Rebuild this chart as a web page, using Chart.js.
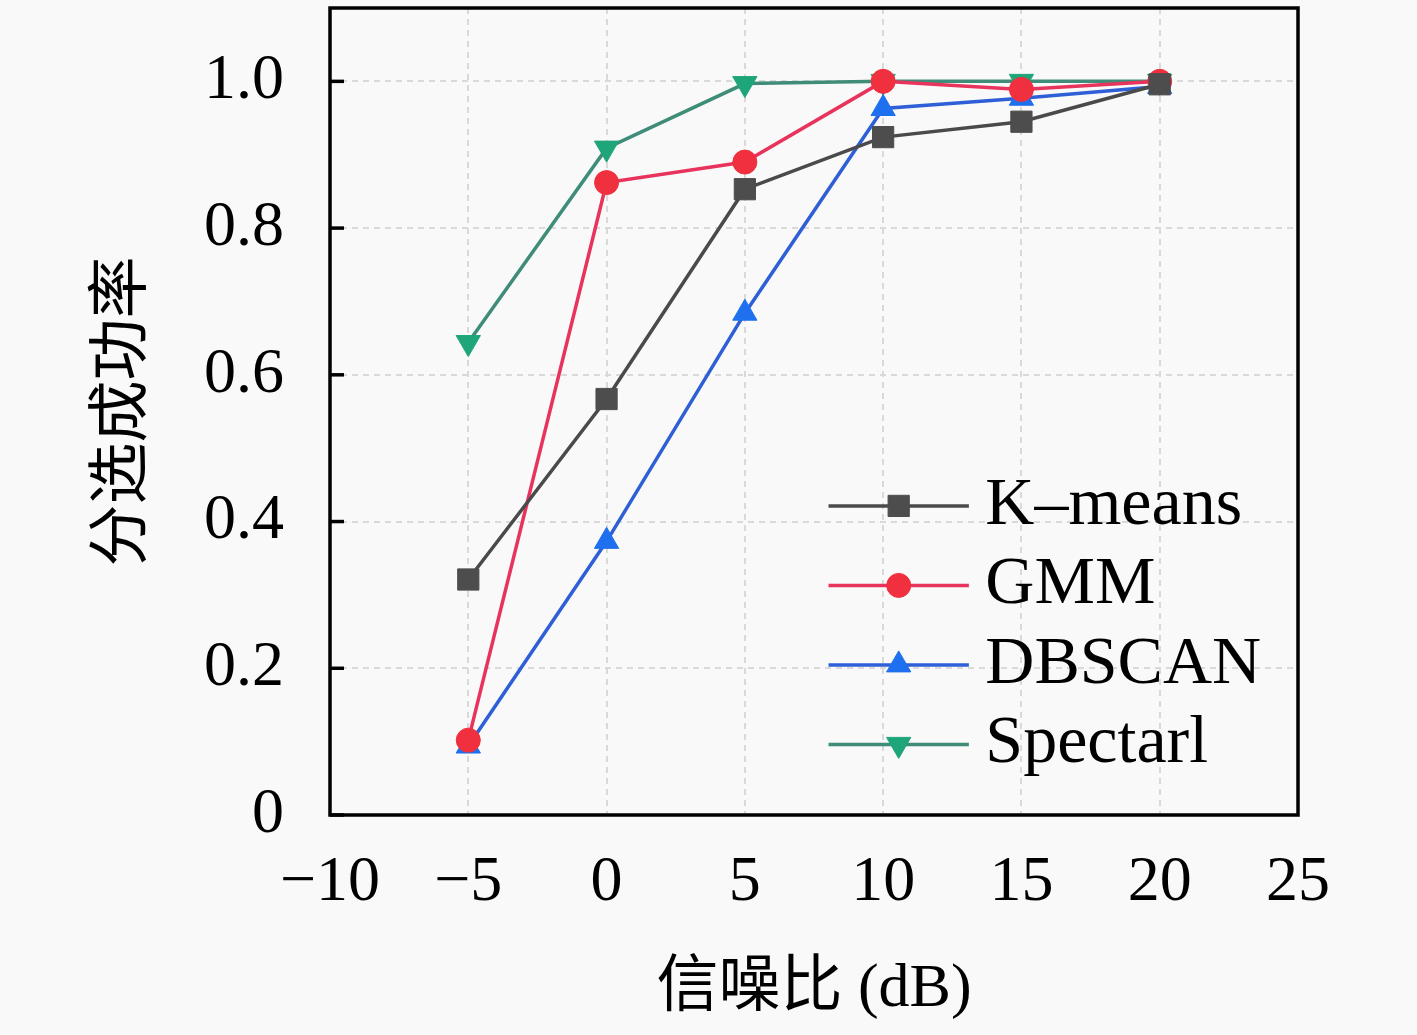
<!DOCTYPE html>
<html><head><meta charset="utf-8">
<script src="https://cdn.jsdelivr.net/npm/chart.js@4/dist/chart.umd.min.js"></script>
<style>html,body{margin:0;padding:0;background:#f9f9f9;}#wrap{width:1417px;height:1035px;}</style>
</head><body><div id="wrap"><canvas id="c" width="1417" height="1035"></canvas></div>
<script>
const snr = [-5, 0, 5, 10, 15, 20];
const kmeans = [0.321, 0.567, 0.853, 0.924, 0.945, 0.996];
const gmm = [0.102, 0.862, 0.890, 1.000, 0.989, 1.000];
const dbscan = [0.094, 0.373, 0.684, 0.963, 0.977, 0.993];
const spectral = [0.644, 0.909, 0.997, 1.000, 1.000, 1.000];
const seriesNames = ['K\u2013means', 'GMM', 'DBSCAN', 'Spectarl'];
const xTicks = [-10, -5, 0, 5, 10, 15, 20, 25];
const yTicks = [0, 0.2, 0.4, 0.6, 0.8, 1.0];

const SERIF = '"Liberation Serif", "Noto Sans CJK SC", serif';
const pts = arr => snr.map((x, i) => ({x: x, y: arr[i]}));

const styles = [
  {line: '#4a4a4a', fill: '#4d4d4d', shape: 'rect', r: 15},
  {line: '#e8345c', fill: '#f0303e', shape: 'circle', r: 12},
  {line: '#2f5fd6', fill: '#1e70ee', shape: 'triangle', r: 14},
  {line: '#3f8c78', fill: '#1fa57a', shape: 'triangle', r: 14, rot: 180}
];
const values = [kmeans, gmm, dbscan, spectral];

const datasets = values.map((v, i) => ({
  label: seriesNames[i],
  data: pts(v),
  borderColor: styles[i].line,
  backgroundColor: styles[i].fill,
  pointBackgroundColor: styles[i].fill,
  pointBorderColor: styles[i].fill,
  pointStyle: styles[i].shape,
  pointRadius: styles[i].r,
  pointRotation: styles[i].rot || 0,
  pointBorderWidth: 1,
  borderWidth: 3.5,
  tension: 0
}));

const bgPlugin = {
  id: 'bg',
  beforeDraw(chart) {
    const ctx = chart.ctx;
    ctx.save(); ctx.fillStyle = '#f9f9f9';
    ctx.fillRect(0, 0, chart.width, chart.height); ctx.restore();
  }
};

const framePlugin = {
  id: 'frame',
  afterDatasetsDraw(chart) {
    const {ctx, chartArea: a, scales} = chart;
    ctx.save();
    ctx.strokeStyle = '#000'; ctx.lineWidth = 3.5;
    ctx.strokeRect(a.left, a.top, a.right - a.left, a.bottom - a.top);
    yTicks.forEach(t => {
      const y = scales.y.getPixelForValue(t);
      ctx.beginPath(); ctx.moveTo(a.left, y); ctx.lineTo(a.left + 14, y); ctx.stroke();
    });
    ctx.restore();
  }
};

const legendPlugin = {
  id: 'inlegend',
  afterDraw(chart) {
    const {ctx, chartArea: a} = chart;
    const w = a.right - a.left, h = a.bottom - a.top;
    const x0 = a.left + w * 0.515, x1 = a.left + w * 0.66, tx = a.left + w * 0.677;
    const y0 = a.top + h * 0.617, dy = h * 0.0985;
    ctx.save();
    chart.data.datasets.forEach((ds, i) => {
      const y = y0 + i * dy;
      ctx.strokeStyle = ds.borderColor; ctx.lineWidth = 3.5;
      ctx.beginPath(); ctx.moveTo(x0, y); ctx.lineTo(x1, y); ctx.stroke();
      ctx.fillStyle = ds.pointBackgroundColor; ctx.strokeStyle = ds.pointBorderColor;
      ctx.lineWidth = 1;
      Chart.helpers.drawPoint(ctx, {
        pointStyle: ds.pointStyle, radius: ds.pointRadius, rotation: ds.pointRotation,
        borderWidth: 1
      }, (x0 + x1) / 2, y);
      ctx.fillStyle = '#000';
      ctx.font = '68px ' + SERIF;
      ctx.textBaseline = 'middle'; ctx.textAlign = 'left';
      ctx.fillText(ds.label, tx, y);
    });
    ctx.restore();
  }
};

new Chart(document.getElementById('c'), {
  type: 'line',
  data: {datasets: datasets},
  plugins: [bgPlugin, framePlugin, legendPlugin],
  options: {
    responsive: false,
    animation: false,
    layout: {autoPadding: false, padding: {top: 8, right: 119, left: 0, bottom: 0}},
    plugins: {legend: {display: false}, tooltip: {enabled: false}},
    scales: {
      x: {
        type: 'linear', min: -10, max: 25,
        afterBuildTicks: s => { s.ticks = xTicks.map(v => ({value: v})); },
        afterFit: s => { s.height = 220; s.paddingLeft = 0; s.paddingRight = 0; },
        grid: {color: '#d9d9d9', lineWidth: 2, drawTicks: false},
        border: {display: false, dash: [6, 5]},
        ticks: {
          padding: 30, color: '#000',
          font: {family: SERIF, size: 64},
          callback: v => (v < 0 ? '\u2212' + Math.abs(v) : String(v))
        },
        title: {display: true, text: '信噪比 (dB)', color: '#000',
          font: {family: SERIF, size: 62}, padding: {top: 0, bottom: 8}}
      },
      y: {
        type: 'linear', min: 0, max: 1.1,
        afterBuildTicks: s => { s.ticks = yTicks.map(v => ({value: v})); },
        afterFit: s => { s.width = 330; s.paddingTop = 0; s.paddingBottom = 0; },
        grid: {color: '#d9d9d9', lineWidth: 2, drawTicks: false},
        border: {display: false, dash: [6, 5]},
        ticks: {
          padding: 46, color: '#000',
          font: {family: SERIF, size: 64},
          callback: v => (v === 0 ? '0' : v.toFixed(1))
        },
        title: {display: true, text: '分选成功率', color: '#000',
          font: {family: SERIF, size: 62}, padding: {top: 88, bottom: 0}}
      }
    }
  }
});
</script></body></html>
